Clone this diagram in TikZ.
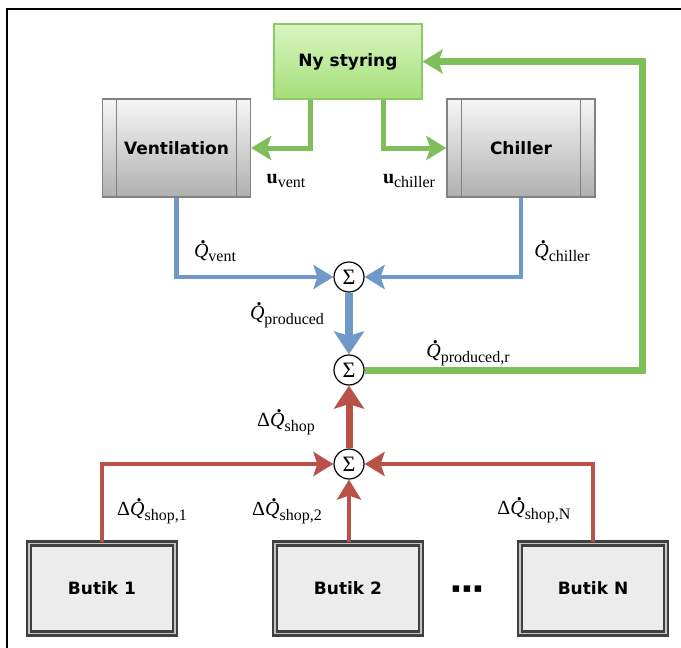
\documentclass[tikz,border=0pt]{standalone}
\usepackage{fontspec}
\setmainfont{Liberation Serif}
\newfontfamily\boxfont{DejaVu Sans}
\usetikzlibrary{arrows.meta,shadows}
\definecolor{cgreen}{RGB}{128,190,92}
\definecolor{cblue}{RGB}{112,152,200}
\definecolor{cred}{RGB}{184,82,72}
\definecolor{nytop}{RGB}{216,246,192}
\definecolor{nybot}{RGB}{166,222,122}
\definecolor{nyline}{RGB}{140,202,104}
\definecolor{grtop}{RGB}{246,246,246}
\definecolor{grbot}{RGB}{176,176,176}
\definecolor{grline}{RGB}{130,130,130}
\definecolor{butfill}{RGB}{236,236,236}
\definecolor{butline}{RGB}{64,64,64}
\newcommand\Qd{\textit{Q}\llap{\raisebox{0.70em}{\textbf{.}}\hspace{0.14em}}}
\newcommand\lab[2]{{\fontsize{20}{20}\selectfont #1\raisebox{-4.5pt}{\fontsize{16}{16}\selectfont #2}}}
\tikzset{
  boxtext/.style={font=\boxfont\bfseries\fontsize{17}{20}\selectfont, text=black},
  nybox/.style={boxtext, draw=nyline, line width=1.2pt, top color=nytop, bottom color=nybot,
    minimum width=148pt, minimum height=75pt, inner sep=0pt},
  procbox/.style={boxtext, draw=grline, line width=1.3pt, top color=grtop, bottom color=grbot,
    minimum width=148pt, minimum height=98pt, inner sep=0pt},
  butbox/.style={boxtext, draw=butline, fill=butfill, line width=2.2pt, double=gray!45,
    double distance=1.8pt, minimum width=146pt, minimum height=90pt, inner sep=0pt,
    general shadow={shadow xshift=2.5pt, shadow yshift=-1pt, fill=gray!55}},
  sumnode/.style={circle, draw=black, line width=1.2pt, fill=white, minimum size=30pt,
    inner sep=0pt, font=\fontsize{22}{22}\selectfont},
  procline/.style={draw=grline, line width=1.1pt},
  tipthin/.tip={Stealth[length=20pt, width=24pt, inset=4pt]},
  tipthick/.tip={Stealth[length=23pt, width=30pt, inset=4.5pt]},
  garrow/.style={draw=cgreen, line width=5pt, -tipthin},
  gfeed/.style={draw=cgreen, line width=7pt, -tipthin},
  barrow/.style={draw=cblue, line width=4.5pt, -tipthin},
  bthick/.style={draw=cblue, line width=8pt, -tipthick},
  rarrow/.style={draw=cred, line width=4pt, -tipthin},
  rthick/.style={draw=cred, line width=7pt, -tipthick},
  lbl/.style={inner sep=0pt},
}
\begin{document}
\begin{tikzpicture}[x=1pt,y=-1pt]
\useasboundingbox (0,0) rectangle (681,648);
\draw[line width=1.6pt] (7,648) -- (7,9) -- (681,9);

% blocks
\node[nybox] (ny) at (348,61.5) {Ny styring};
\node[procbox] (vent) at (176.5,148) {Ventilation};
\node[procbox] (chill) at (521,148) {Chiller};
\foreach \n in {vent,chill}{
  \draw[procline] ([xshift=15pt]\n.north west) -- ([xshift=15pt]\n.south west);
  \draw[procline] ([xshift=-15pt]\n.north east) -- ([xshift=-15pt]\n.south east);
}
\node[sumnode] (s1) at (349,277) {Σ};
\node[sumnode] (s2) at (349,370) {Σ};
\node[sumnode] (s3) at (349,464) {Σ};

\node[butbox] (b1) at (102,588.5) {Butik 1};
\node[butbox] (b2) at (348,588.5) {Butik 2};
\node[butbox] (bN) at (593,588.5) {Butik N};
\node[boxtext, font=\boxfont\bfseries\fontsize{13}{13}\selectfont] (dots) at (467,589) {▪\,▪\,▪};

% coordinates
\coordinate (gv) at ([xshift=-38pt]ny.south);
\coordinate (gc) at ([xshift=35pt]ny.south);
\coordinate (fb) at (642,370);

% connectors
\draw[garrow] (gv) |- (vent.east);
\draw[garrow] (gc) |- (chill.west);
\draw[gfeed] (s2.east) -- (fb) |- (ny.east);

\draw[barrow] (vent.south) |- (s1.west);
\draw[barrow] (chill.south) |- (s1.east);
\draw[bthick] (s1.south) -- (s2.north);

\draw[rarrow] (b1.north) |- (s3.west);
\draw[rarrow] (bN.north) |- (s3.east);
\draw[rarrow] (s3 |- b2.north) -- (s3.south);
\draw[rthick] (s3.north) -- (s2.south);

% labels
\node[lbl] (luv) at (286,181) {\lab{\textbf{u}}{vent}};
\node[lbl] (luc) at (409,181) {\lab{\textbf{u}}{chiller}};
\node[lbl] (lqv) at (215,251) {\lab{\Qd}{vent}};
\node[lbl] (lqc) at (562,251) {\lab{\Qd}{chiller}};
\node[lbl] (lqp) at (287,315) {\lab{\Qd}{produced}};
\node[lbl] (lqr) at (468,353) {\lab{\Qd}{produced,r}};
\node[lbl] (lds) at (286,422) {\lab{Δ\Qd}{shop}};
\node[lbl] (ld1) at (152,511) {\lab{Δ\Qd}{shop,1}};
\node[lbl] (ld2) at (287,511) {\lab{Δ\Qd}{shop,2}};
\node[lbl] (ldN) at (534,510) {\lab{Δ\Qd}{shop,N}};
\end{tikzpicture}
\end{document}
